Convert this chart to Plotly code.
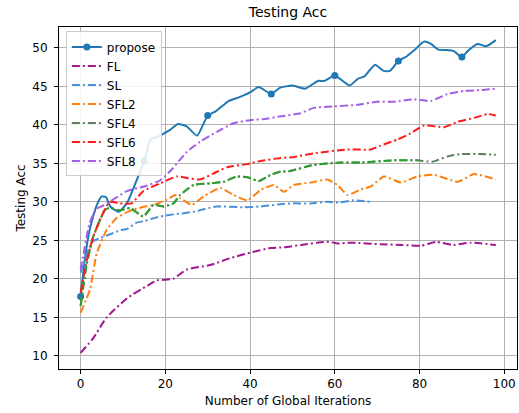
import plotly.graph_objects as go

# ---- data ----
propose_x = [0, 1, 2, 3, 4, 5, 6, 7, 9, 11, 13, 15, 16.5, 18, 21, 23, 25, 27.5, 30, 32, 35, 37.5, 40, 42, 45, 47,
             50, 53, 56, 57.5, 60, 63.5, 65.5, 67, 69.5, 71.5, 73, 75, 77, 79, 81, 82.7, 84.3, 86.6, 88, 90, 91.4,
             93.7, 95.7, 98]
propose_y = [17.7, 22.5, 26.0, 28.2, 29.8, 30.7, 30.6, 29.4, 28.7, 29.9, 32.5, 35.3, 38.1, 38.4, 39.3, 40.1, 39.8,
             38.6, 41.2, 41.8, 43.1, 43.6, 44.2, 44.9, 44.0, 44.8, 45.1, 44.7, 45.7, 45.7, 46.4, 45.1, 46.0, 46.3,
             47.8, 47.0, 47.0, 48.3, 48.9, 49.8, 50.8, 50.5, 49.8, 49.7, 49.6, 48.8, 49.6, 50.5, 50.2, 51.0]
propose_marks = [0, 15, 30, 45, 60, 75, 90]

fl_x = [0, 3, 6, 11, 15.7, 18, 21.8, 25, 30.6, 35.4, 40, 44.8, 48, 52, 57.4, 59, 60.6, 63.7, 70.8, 76, 80.3, 83.9,
        88, 92, 98]
fl_y = [10.4, 12.3, 14.9, 17.5, 19.1, 19.8, 20.0, 21.2, 21.8, 22.7, 23.4, 24.0, 24.1, 24.4, 24.8, 24.8, 24.6, 24.7,
        24.5, 24.4, 24.3, 24.8, 24.4, 24.7, 24.4]

sl_x = [0, 1, 2, 3, 4.6, 7, 9.3, 11, 13.2, 15, 18, 21, 26.6, 32, 38.4, 42.5, 47.2, 50, 54.3, 58.2, 61, 64.5, 68.5]
sl_y = [20.8, 22.5, 24.0, 24.9, 25.3, 25.8, 26.3, 26.5, 27.3, 27.5, 28.0, 28.3, 28.7, 29.4, 29.3, 29.4, 29.7, 29.8,
        29.8, 30.0, 29.9, 30.2, 30.0]

sfl2_x = [0, 2.2, 3.8, 6.2, 8.5, 11.5, 14.5, 17.2, 20.4, 22.3, 23.5, 26.3, 29, 33, 36.1, 39.3, 42.4, 45.6, 48, 50.3,
          54.3, 58.2, 60.6, 63, 66.1, 68.5, 71.6, 75.6, 79.5, 83.5, 89, 92.9, 98]
sfl2_y = [15.6, 18.6, 23.3, 26.4, 27.9, 28.8, 29.3, 29.6, 30.3, 30.9, 30.5, 29.6, 30.7, 31.8, 30.9, 30.2, 31.5, 32.2,
          31.3, 32.2, 32.5, 32.9, 32.2, 30.9, 31.6, 32.0, 33.3, 32.5, 33.3, 33.5, 32.6, 33.6, 32.9]

sfl4_x = [0, 1.4, 3, 5.8, 6.9, 9.3, 11.7, 14.8, 17.2, 19.6, 21.9, 23.5, 26.7, 30.6, 33.8, 36.9, 40, 42, 44.8, 47.2,
          49.5, 55, 61.4, 66.1, 74, 79.5, 83, 86.6, 89.8, 94.5, 98]
sfl4_y = [16.5, 21.8, 25.5, 29.0, 29.2, 28.9, 29.2, 28.1, 29.6, 29.4, 29.8, 30.9, 32.2, 32.4, 32.6, 33.3, 33.1, 32.7,
          33.5, 33.9, 34.0, 34.8, 35.1, 35.1, 35.4, 35.4, 35.2, 35.9, 36.2, 36.2, 36.1]

sfl6_x = [0, 1.5, 3, 5, 6.9, 9.3, 12, 14.8, 18.8, 22.7, 25.1, 28.2, 31.4, 34.6, 39.3, 42.4, 47.2, 50, 55, 63, 68.5,
          70.8, 74.8, 77.9, 81.1, 85.8, 89, 92.9, 96.1, 98]
sfl6_y = [18.2, 22.5, 25.5, 28.2, 30.0, 29.8, 29.8, 31.4, 32.4, 33.3, 33.1, 32.9, 33.7, 34.5, 34.9, 35.3, 35.7, 35.8,
          36.3, 36.8, 36.8, 37.3, 38.1, 38.9, 39.9, 39.7, 40.4, 40.9, 41.4, 41.2]

sfl8_x = [0, 1, 2, 3, 3.8, 5.3, 7.7, 10.9, 15.6, 18.8, 21.5, 25.1, 28.2, 32.2, 36.1, 40, 44, 47.2, 51.9, 55, 59.8,
          65.3, 70, 74, 78.7, 82.7, 86.6, 90.6, 94.5, 98]
sfl8_y = [21.2, 24.2, 27.0, 28.4, 29.1, 29.5, 30.3, 31.4, 32.1, 32.8, 34.2, 36.5, 37.8, 39.1, 40.2, 40.6, 40.8, 41.1,
          41.5, 42.2, 42.4, 42.6, 43.0, 43.0, 43.3, 43.1, 44.0, 44.4, 44.5, 44.7]

x_ticks = [0, 20, 40, 60, 80, 100]
y_ticks = [10, 15, 20, 25, 30, 35, 40, 45, 50]

DASH = "8px,3px,2px,3px"
FONT = "DejaVu Sans"

fig = go.Figure()


def dd(x, y, name, color, showlegend=True):
    fig.add_trace(go.Scatter(x=x, y=y, name=name, mode="lines", showlegend=showlegend,
                             line=dict(color=color, width=2, dash=DASH, shape="spline", smoothing=0.5)))


# propose: line + periodic markers
fig.add_trace(go.Scatter(x=propose_x, y=propose_y, mode="lines", showlegend=False,
                         line=dict(color="#1f77b4", width=2, shape="spline", smoothing=0.5)))
mk_y = [propose_y[propose_x.index(m)] for m in propose_marks]
fig.add_trace(go.Scatter(x=propose_marks, y=mk_y, mode="markers", showlegend=False,
                         marker=dict(color="#1f77b4", size=7)))
fig.add_trace(go.Scatter(x=[None], y=[None], name="propose", mode="lines+markers",
                         line=dict(color="#1f77b4", width=2), marker=dict(color="#1f77b4", size=7)))

dd(fl_x, fl_y, "FL", "#a2168f")
dd(sl_x, sl_y, "SL", "#4a8fdc")
dd(sfl2_x, sfl2_y, "SFL2", "#ff7f0e")
dd(sfl4_x, sfl4_y, "SFL4", "#5f7f5f")
n80 = sum(1 for v in sfl4_x if v <= 80)
dd(sfl4_x[:n80], sfl4_y[:n80], "SFL4g", "#2ca02c", showlegend=False)
dd(sfl6_x, sfl6_y, "SFL6", "#ff1a1a")
dd(sfl8_x, sfl8_y, "SFL8", "#a35ee6")

axis_common = dict(showline=True, linecolor="black", linewidth=1, mirror=True,
                   ticks="outside", ticklen=4, tickcolor="black",
                   showgrid=True, gridcolor="#b0b0b0", gridwidth=1, zeroline=False,
                   tickfont=dict(family=FONT, size=12, color="black"))

fig.update_layout(
    width=519, height=413,
    margin=dict(l=59, r=2, t=27, b=44),
    paper_bgcolor="white", plot_bgcolor="white",
    font=dict(family=FONT, color="black"),
    title=dict(text="Testing Acc", x=0.555, xanchor="center", y=0.971, yanchor="middle",
               font=dict(family=FONT, size=14, color="black")),
    xaxis=dict(range=[-5.1, 103.0], tickvals=x_ticks,
               title=dict(text="Number of Global Iterations", font=dict(family=FONT, size=12), standoff=6),
               **axis_common),
    yaxis=dict(range=[8.3, 52.7], tickvals=y_ticks, ticklabelstandoff=4,
               title=dict(text="Testing Acc", font=dict(family=FONT, size=12), standoff=4),
               **axis_common),
    legend=dict(x=0.015, y=0.987, xanchor="left", yanchor="top",
                bgcolor="rgba(255,255,255,0.85)", bordercolor="#cccccc", borderwidth=1,
                font=dict(family=FONT, size=12, color="black"), tracegroupgap=0),
)

fig.write_html("out.html", config={"displayModeBar": False},
               post_script="document.body.style.margin='0';document.body.style.overflow='hidden';")
